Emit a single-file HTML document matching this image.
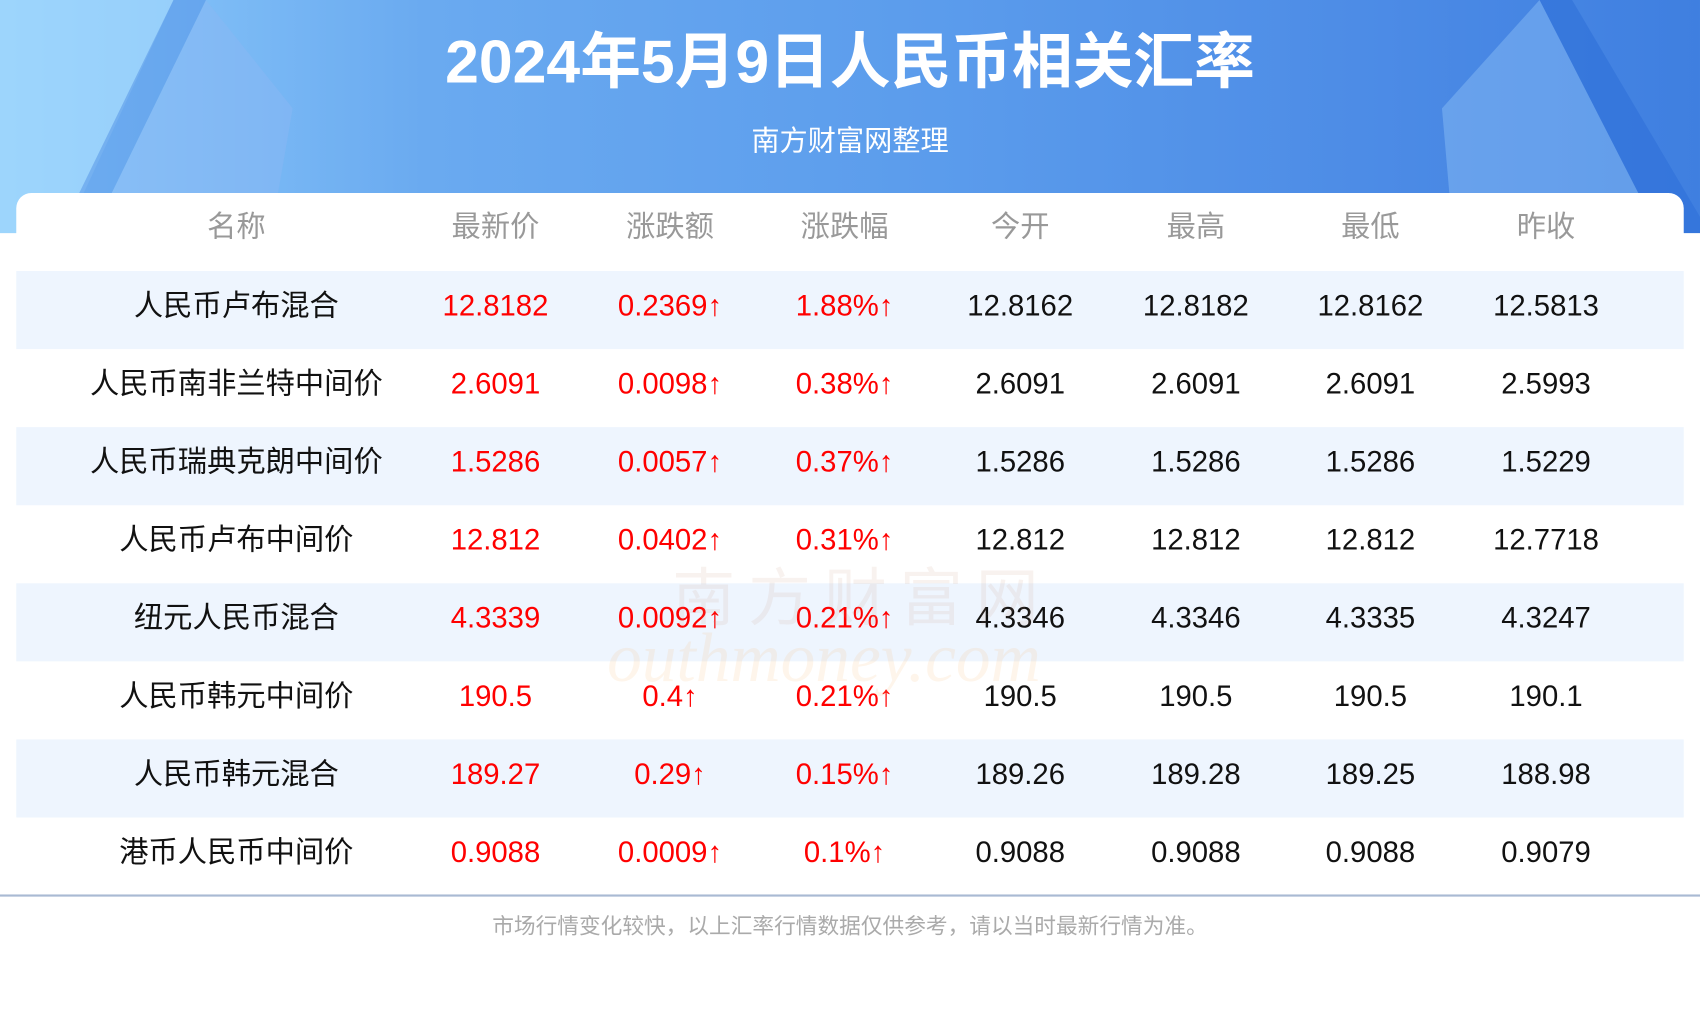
<!DOCTYPE html>
<html><head><meta charset="utf-8"><style>
html,body{margin:0;padding:0;background:#fff;}
body{width:1700px;height:1000px;overflow:hidden;position:relative;}
#s{position:absolute;left:0;top:0;width:1568px;height:923px;transform-origin:0 0;transform:scale(1.08418);font-family:"Liberation Sans","Noto Sans CJK SC",sans-serif;}
#hdr{position:absolute;left:0;top:0;width:1568px;height:215px;background:linear-gradient(90deg,#8fcdfb 0%,#6aaaf0 25%,#5b9cec 55%,#4d8ce6 80%,#3f7fe0 100%);overflow:hidden;}
.t{position:absolute;left:0;width:1568px;text-align:center;color:#fff;}
#card{position:absolute;left:15px;top:178px;width:1538px;height:760px;background:#fff;border-radius:14px 14px 0 0;}
.row{position:absolute;left:15px;width:1538px;height:72px;}
.c{position:absolute;top:-4px;width:200px;margin-left:-100px;text-align:center;font-size:27px;line-height:72px;}
.g{top:0}
.r{color:#f00}.k{color:#111}.g{color:#999}
</style></head><body><div id="s">
<div id="hdr">
<svg width="1568" height="215" style="position:absolute;left:0;top:0">
<polygon points="0,0 160,0 60,215 0,215" fill="#a6dbfd" opacity="0.6"/>
<polygon points="160,0 190,0 85,215 55,215" fill="#4f8fe6" opacity="0.5"/>
<polygon points="190,0 270,100 250,215 85,215" fill="#8ab8f4" opacity="0.5"/>
<polygon points="1420,0 1450,0 1568,200 1568,215 1530,215" fill="#2f6fd8" opacity="0.6"/>
<polygon points="1330,100 1420,0 1530,215 1340,215" fill="#8ec2f7" opacity="0.45"/>
</svg>
<div class="t" style="top:22px;font-size:56px;font-weight:bold;line-height:70px;">2024年5月9日人民币相关汇率</div>
<div class="t" style="top:112px;font-size:26px;line-height:36px;">南方财富网整理</div>
</div>
<div id="card"></div>
<div class="row" style="top:173px">
<div class="c g" style="left:203px">名称</div><div class="c g" style="left:442px">最新价</div><div class="c g" style="left:603px">涨跌额</div><div class="c g" style="left:764px">涨跌幅</div><div class="c g" style="left:926px">今开</div><div class="c g" style="left:1088px">最高</div><div class="c g" style="left:1249px">最低</div><div class="c g" style="left:1411px">昨收</div>
</div>
<div style="position:absolute;left:0;top:825px;width:1568px;height:2px;background:#a9bad3"></div>
<div class="t" style="top:841px;font-size:20px;color:#aaa;line-height:28px;">市场行情变化较快，以上汇率行情数据仅供参考，请以当时最新行情为准。</div>
<div style="position:absolute;left:0;top:0;width:1568px;height:905px">
<div class="row" style="top:250px;background:#eef5fe"><div class="c k" style="left:203px">人民币卢布混合</div><div class="c r" style="left:442px">12.8182</div><div class="c r" style="left:603px">0.2369↑</div><div class="c r" style="left:764px">1.88%↑</div><div class="c k" style="left:926px">12.8162</div><div class="c k" style="left:1088px">12.8182</div><div class="c k" style="left:1249px">12.8162</div><div class="c k" style="left:1411px">12.5813</div></div>
<div class="row" style="top:322px"><div class="c k" style="left:203px;width:320px;margin-left:-160px">人民币南非兰特中间价</div><div class="c r" style="left:442px">2.6091</div><div class="c r" style="left:603px">0.0098↑</div><div class="c r" style="left:764px">0.38%↑</div><div class="c k" style="left:926px">2.6091</div><div class="c k" style="left:1088px">2.6091</div><div class="c k" style="left:1249px">2.6091</div><div class="c k" style="left:1411px">2.5993</div></div>
<div class="row" style="top:394px;background:#eef5fe"><div class="c k" style="left:203px;width:320px;margin-left:-160px">人民币瑞典克朗中间价</div><div class="c r" style="left:442px">1.5286</div><div class="c r" style="left:603px">0.0057↑</div><div class="c r" style="left:764px">0.37%↑</div><div class="c k" style="left:926px">1.5286</div><div class="c k" style="left:1088px">1.5286</div><div class="c k" style="left:1249px">1.5286</div><div class="c k" style="left:1411px">1.5229</div></div>
<div class="row" style="top:466px"><div class="c k" style="left:203px;width:320px;margin-left:-160px">人民币卢布中间价</div><div class="c r" style="left:442px">12.812</div><div class="c r" style="left:603px">0.0402↑</div><div class="c r" style="left:764px">0.31%↑</div><div class="c k" style="left:926px">12.812</div><div class="c k" style="left:1088px">12.812</div><div class="c k" style="left:1249px">12.812</div><div class="c k" style="left:1411px">12.7718</div></div>
<div class="row" style="top:538px;background:#eef5fe"><div class="c k" style="left:203px">纽元人民币混合</div><div class="c r" style="left:442px">4.3339</div><div class="c r" style="left:603px">0.0092↑</div><div class="c r" style="left:764px">0.21%↑</div><div class="c k" style="left:926px">4.3346</div><div class="c k" style="left:1088px">4.3346</div><div class="c k" style="left:1249px">4.3335</div><div class="c k" style="left:1411px">4.3247</div></div>
<div class="row" style="top:610px"><div class="c k" style="left:203px;width:320px;margin-left:-160px">人民币韩元中间价</div><div class="c r" style="left:442px">190.5</div><div class="c r" style="left:603px">0.4↑</div><div class="c r" style="left:764px">0.21%↑</div><div class="c k" style="left:926px">190.5</div><div class="c k" style="left:1088px">190.5</div><div class="c k" style="left:1249px">190.5</div><div class="c k" style="left:1411px">190.1</div></div>
<div class="row" style="top:682px;background:#eef5fe"><div class="c k" style="left:203px">人民币韩元混合</div><div class="c r" style="left:442px">189.27</div><div class="c r" style="left:603px">0.29↑</div><div class="c r" style="left:764px">0.15%↑</div><div class="c k" style="left:926px">189.26</div><div class="c k" style="left:1088px">189.28</div><div class="c k" style="left:1249px">189.25</div><div class="c k" style="left:1411px">188.98</div></div>
<div class="row" style="top:754px"><div class="c k" style="left:203px;width:320px;margin-left:-160px">港币人民币中间价</div><div class="c r" style="left:442px">0.9088</div><div class="c r" style="left:603px">0.0009↑</div><div class="c r" style="left:764px">0.1%↑</div><div class="c k" style="left:926px">0.9088</div><div class="c k" style="left:1088px">0.9088</div><div class="c k" style="left:1249px">0.9088</div><div class="c k" style="left:1411px">0.9079</div></div>
<div style="position:absolute;left:620px;top:505px;font-size:58px;color:rgba(200,150,120,0.12);letter-spacing:12px;">南方财富网</div>
<div style="position:absolute;left:560px;top:570px;font-size:64px;font-style:italic;font-family:'Liberation Serif',serif;color:rgba(250,190,120,0.15);">outhmoney.com</div>
</div>
</div></body></html>
